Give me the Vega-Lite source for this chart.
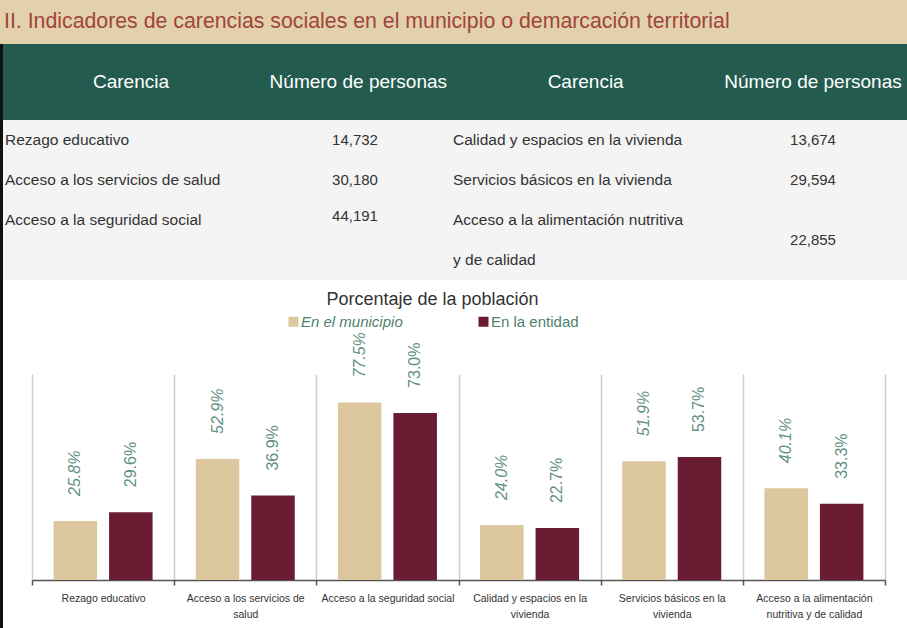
{
  "$schema": "https://vega.github.io/schema/vega-lite/v6.json",
  "padding": 0,
  "background": "white",
  "spacing": 0,
  "config": {
    "view": {"stroke": null},
    "font": "Liberation Sans",
    "concat": {"spacing": 0}
  },
  "datasets": {
    "banner": [
      {"texto": "II. Indicadores de carencias sociales en el municipio o demarcación territorial"}
    ],
    "encabezado": [
      {"columna": "c1", "texto": "Carencia"},
      {"columna": "n1", "texto": "Número de personas"},
      {"columna": "c2", "texto": "Carencia"},
      {"columna": "n2", "texto": "Número de personas"}
    ],
    "carencias": [
      {"lado": "izquierda", "fila": 1, "texto": "Rezago educativo"},
      {"lado": "izquierda", "fila": 2, "texto": "Acceso a los servicios de salud"},
      {"lado": "izquierda", "fila": 3, "texto": "Acceso a la seguridad social"},
      {"lado": "derecha", "fila": 1, "texto": "Calidad y espacios en la vivienda"},
      {"lado": "derecha", "fila": 2, "texto": "Servicios básicos en la vivienda"},
      {"lado": "derecha", "fila": 3, "texto": "Acceso a la alimentación nutritiva"},
      {"lado": "derecha", "fila": 4, "texto": "y de calidad"}
    ],
    "personas": [
      {"lado": "izquierda", "fila": 1, "personas": 14732},
      {"lado": "izquierda", "fila": 2, "personas": 30180},
      {"lado": "izquierda", "fila": 2.9, "personas": 44191},
      {"lado": "derecha", "fila": 1, "personas": 13674},
      {"lado": "derecha", "fila": 2, "personas": 29594},
      {"lado": "derecha", "fila": 3.5, "personas": 22855}
    ],
    "porcentajes": [
      {"carencia": "Rezago educativo", "ambito": "En el municipio", "pct": 25.8},
      {"carencia": "Rezago educativo", "ambito": "En la entidad", "pct": 29.6},
      {"carencia": "Acceso a los servicios de salud", "ambito": "En el municipio", "pct": 52.9},
      {"carencia": "Acceso a los servicios de salud", "ambito": "En la entidad", "pct": 36.9},
      {"carencia": "Acceso a la seguridad social", "ambito": "En el municipio", "pct": 77.5},
      {"carencia": "Acceso a la seguridad social", "ambito": "En la entidad", "pct": 73.0},
      {"carencia": "Calidad y espacios en la vivienda", "ambito": "En el municipio", "pct": 24.0},
      {"carencia": "Calidad y espacios en la vivienda", "ambito": "En la entidad", "pct": 22.7},
      {"carencia": "Servicios básicos en la vivienda", "ambito": "En el municipio", "pct": 51.9},
      {"carencia": "Servicios básicos en la vivienda", "ambito": "En la entidad", "pct": 53.7},
      {"carencia": "Acceso a la alimentación nutritiva y de calidad", "ambito": "En el municipio", "pct": 40.1},
      {"carencia": "Acceso a la alimentación nutritiva y de calidad", "ambito": "En la entidad", "pct": 33.3}
    ]
  },
  "resolve": {"scale": {"color": "independent"}, "legend": {"color": "independent"}},
  "vconcat": [
    {
      "width": 907,
      "height": 44,
      "data": {"name": "banner"},
      "view": {"fill": "#e3d0ac"},
      "mark": {"type": "text", "align": "left", "baseline": "middle", "dx": 4, "fontSize": 21.3, "color": "#a0453b"},
      "encoding": {
        "text": {"field": "texto"},
        "x": {"datum": 0, "type": "quantitative", "scale": {"domain": [0, 1]}, "axis": null}
      }
    },
    {
      "spacing": 0,
      "resolve": {"scale": {"color": "independent"}, "legend": {"color": "independent"}},
      "hconcat": [
        {
          "width": 3,
          "height": 584,
          "data": {"values": [{}]},
          "view": {"fill": "#111111"},
          "mark": "text",
          "encoding": {"text": {"value": ""}}
        },
        {
          "spacing": 11,
          "resolve": {"scale": {"color": "independent"}, "legend": {"color": "independent"}},
          "vconcat": [
            {
              "spacing": 0,
              "vconcat": [
                {
                  "width": 904,
                  "height": 76,
                  "data": {"name": "encabezado"},
                  "view": {"fill": "#235b4e"},
                  "mark": {"type": "text", "align": "center", "baseline": "middle", "fontSize": 19, "color": "#ffffff"},
                  "encoding": {
                    "text": {"field": "texto"},
                    "x": {"field": "columna", "type": "nominal", "sort": null, "scale": {"type": "point", "padding": 0, "range": [128, 810]}, "axis": null}
                  }
                },
                {
                  "width": 904,
                  "height": 160,
                  "view": {"fill": "#f4f4f4"},
                  "layer": [
                    {
                      "data": {"name": "carencias"},
                      "mark": {"type": "text", "align": "left", "baseline": "middle", "fontSize": 15.5, "color": "#333333"},
                      "encoding": {
                        "text": {"field": "texto"},
                        "x": {"field": "lado", "type": "nominal", "sort": null, "scale": {"type": "point", "padding": 0, "range": [2, 450]}, "axis": null},
                        "y": {"field": "fila", "type": "quantitative", "scale": {"domain": [0.5, 4.5], "reverse": true}, "axis": null}
                      }
                    },
                    {
                      "data": {"name": "personas"},
                      "mark": {"type": "text", "align": "center", "baseline": "middle", "fontSize": 15, "color": "#333333"},
                      "encoding": {
                        "text": {"field": "personas", "type": "quantitative", "format": ",d"},
                        "x": {"field": "lado", "type": "nominal", "sort": null, "scale": {"type": "point", "padding": 0, "range": [352, 810]}, "axis": null},
                        "y": {"field": "fila", "type": "quantitative", "scale": {"domain": [0.5, 4.5], "reverse": true}, "axis": null}
                      }
                    }
                  ],
                  "resolve": {"scale": {"x": "independent"}}
                }
              ]
            },
            {
              "spacing": 0,
              "resolve": {"scale": {"color": "independent"}, "legend": {"color": "independent"}},
              "hconcat": [
                {
                  "width": 28,
                  "height": 1,
                  "data": {"values": [{}]},
                  "mark": "text",
                  "encoding": {"text": {"value": ""}}
                },
                {
                  "width": 853,
                  "height": 206,
                  "data": {"name": "porcentajes"},
                  "title": {"text": "Porcentaje de la población", "fontSize": 18, "fontWeight": "normal", "color": "#333333", "anchor": "middle", "frame": "group", "dx": -26, "offset": 5},
                  "encoding": {
                    "x": {
                      "field": "carencia", "type": "nominal", "sort": null,
                      "scale": {"paddingInner": 0, "paddingOuter": 0},
                      "axis": {
                        "title": null, "labelAngle": 0, "labelFontSize": 10.5, "labelColor": "#333333",
                        "labelExpr": "datum.label == 'Acceso a los servicios de salud' ? ['Acceso a los servicios de', 'salud'] : datum.label == 'Calidad y espacios en la vivienda' ? ['Calidad y espacios en la', 'vivienda'] : datum.label == 'Servicios básicos en la vivienda' ? ['Servicios básicos en la', 'vivienda'] : datum.label == 'Acceso a la alimentación nutritiva y de calidad' ? ['Acceso a la alimentación', 'nutritiva y de calidad'] : datum.label",
                        "labelBaseline": "top", "labelLineHeight": 16, "labelPadding": 8, "labelLimit": 200,
                        "tickBand": "extent", "tickSize": 5, "tickColor": "#555555", "tickWidth": 1.5,
                        "domainColor": "#555555", "domainWidth": 1.5,
                        "grid": true, "gridColor": "#cfcfcf", "gridWidth": 1.5
                      }
                    },
                    "xOffset": {"field": "ambito", "type": "nominal", "sort": ["En el municipio", "En la entidad"], "scale": {"paddingInner": 0.216, "paddingOuter": 0.389}},
                    "y": {"field": "pct", "type": "quantitative", "scale": {"domain": [0, 90]}, "axis": null}
                  },
                  "layer": [
                    {
                      "mark": {"type": "bar"},
                      "encoding": {
                        "color": {
                          "field": "ambito", "type": "nominal",
                          "scale": {"domain": ["En el municipio", "En la entidad"], "range": ["#dcc79e", "#691c32"]},
                          "legend": {
                            "title": null, "orient": "none", "legendX": 254, "legendY": -60, "direction": "horizontal",
                            "symbolType": "square", "symbolSize": 100, "labelFontSize": 15, "labelColor": "#4f7f70",
                            "columnPadding": 73, "labelOffset": 0, "padding": 0,
                            "labelFontStyle": {"expr": "datum.label == 'En el municipio' ? 'italic' : 'normal'"}
                          }
                        }
                      }
                    },
                    {
                      "transform": [{"filter": "datum.ambito == 'En el municipio'"}],
                      "mark": {"type": "text", "angle": 270, "align": "left", "baseline": "middle", "dx": 25, "fontSize": 16, "fontStyle": "italic", "color": "#5f8f84", "text": {"expr": "format(datum.pct, '.1f') + '%'"}}
                    },
                    {
                      "transform": [{"filter": "datum.ambito == 'En la entidad'"}],
                      "mark": {"type": "text", "angle": 270, "align": "left", "baseline": "middle", "dx": 25, "fontSize": 16, "color": "#5f8f84", "text": {"expr": "format(datum.pct, '.1f') + '%'"}}
                    }
                  ]
                }
              ]
            }
          ]
        }
      ]
    }
  ]
}
